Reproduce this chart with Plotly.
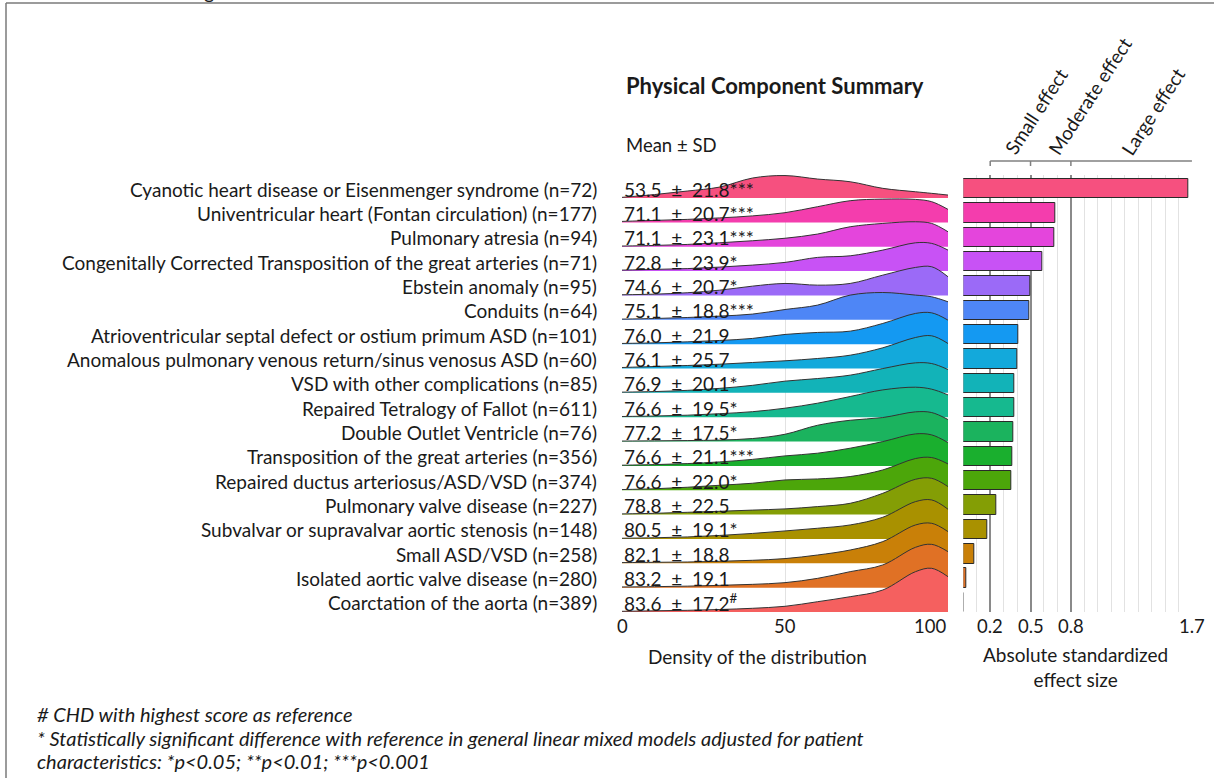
import plotly.graph_objects as go

# ---------------- data ----------------
categories = [
    "Cyanotic heart disease or Eisenmenger syndrome (n=72)",
    "Univentricular heart (Fontan circulation) (n=177)",
    "Pulmonary atresia (n=94)",
    "Congenitally Corrected Transposition of the great arteries (n=71)",
    "Ebstein anomaly (n=95)",
    "Conduits (n=64)",
    "Atrioventricular septal defect or ostium primum ASD (n=101)",
    "Anomalous pulmonary venous return/sinus venosus ASD (n=60)",
    "VSD with other complications (n=85)",
    "Repaired Tetralogy of Fallot (n=611)",
    "Double Outlet Ventricle (n=76)",
    "Transposition of the great arteries (n=356)",
    "Repaired ductus arteriosus/ASD/VSD (n=374)",
    "Pulmonary valve disease (n=227)",
    "Subvalvar or supravalvar aortic stenosis (n=148)",
    "Small ASD/VSD (n=258)",
    "Isolated aortic valve disease (n=280)",
    "Coarctation of the aorta (n=389)",
]
means = [53.5, 71.1, 71.1, 72.8, 74.6, 75.1, 76.0, 76.1, 76.9, 76.6, 77.2, 76.6, 76.6, 78.8, 80.5, 82.1, 83.2, 83.6]
sds = [21.8, 20.7, 23.1, 23.9, 20.7, 18.8, 21.9, 25.7, 20.1, 19.5, 17.5, 21.1, 22.0, 22.5, 19.1, 18.8, 19.1, 17.2]
sig_marks = ["***", "***", "***", "*", "*", "***", "", "", "*", "*", "*", "***", "*", "", "*", "", "", "<sup>#</sup>"]
effect_sizes = [1.67, 0.682, 0.674, 0.585, 0.50, 0.49, 0.41, 0.405, 0.38, 0.377, 0.372, 0.364, 0.357, 0.248, 0.176, 0.085, 0.025, 0.0]

# density of the PCS distribution (relative units), read at these scores
density_x = [0, 10, 20, 30, 40, 50, 60, 70, 80, 90, 95, 100]
dens_cyanotic = [0.7, 3.5, 7.0, 11.0, 20.0, 22.5, 19.0, 16.3, 9.7, 6.3, 4.7, 3.0]
dens_univentricular = [1.0, 2.0, 3.0, 4.5, 6.5, 9.7, 15.7, 21.7, 23.3, 23.0, 20.7, 13.0]
dens_pulm_atresia = [0.7, 1.3, 2.3, 4.0, 6.0, 8.5, 12.7, 20.0, 23.3, 25.0, 23.3, 15.0]
dens_cctga = [1.0, 1.7, 2.5, 4.0, 6.0, 8.7, 13.7, 15.3, 21.0, 28.3, 27.7, 21.0]
dens_ebstein = [0.7, 1.3, 2.7, 5.3, 9.3, 12.0, 10.3, 12.0, 20.3, 28.0, 28.7, 18.7]
dens_conduits = [0.7, 1.3, 2.3, 3.7, 5.7, 10.3, 14.7, 24.7, 27.3, 24.7, 23.0, 18.0]
dens_avsd = [0.7, 1.3, 2.3, 3.7, 5.7, 9.7, 11.7, 13.0, 20.7, 30.7, 31.3, 24.0]
dens_apvr = [1.0, 2.0, 3.0, 4.3, 6.0, 7.7, 10.0, 13.3, 20.7, 31.0, 32.7, 25.0]
dens_vsd_other = [0.7, 1.3, 2.5, 4.5, 7.5, 11.7, 14.3, 17.7, 24.3, 30.0, 29.3, 23.3]
dens_tof = [0.7, 1.2, 2.0, 3.5, 5.5, 9.0, 14.0, 20.7, 27.3, 30.0, 28.0, 22.3]
dens_dov = [0.5, 0.7, 1.0, 1.5, 3.0, 7.3, 16.3, 21.3, 24.0, 29.7, 29.0, 22.0]
dens_tga = [0.7, 1.3, 2.3, 4.0, 6.5, 10.0, 12.7, 17.7, 24.3, 32.0, 31.0, 23.3]
dens_pda = [0.7, 1.5, 3.0, 5.0, 7.0, 10.3, 11.3, 13.7, 20.3, 31.7, 32.7, 26.3]
dens_pulm_valve = [0.7, 1.3, 2.3, 3.3, 4.5, 5.7, 8.0, 11.3, 21.3, 35.3, 36.3, 28.0]
dens_subvalvar = [0.7, 1.2, 2.0, 3.5, 5.5, 8.0, 10.7, 14.0, 21.7, 37.3, 39.0, 29.7]
dens_small_asd = [0.7, 1.0, 1.3, 2.0, 3.0, 4.7, 8.3, 13.3, 21.7, 38.3, 40.0, 31.7]
dens_aortic_valve = [0.7, 1.0, 1.5, 2.3, 3.3, 5.0, 9.3, 16.0, 22.7, 40.3, 43.3, 36.0]
dens_coarctation = [0.7, 1.2, 1.7, 2.5, 3.7, 5.7, 10.3, 15.3, 22.0, 40.3, 43.7, 35.3]
densities = [dens_cyanotic, dens_univentricular, dens_pulm_atresia, dens_cctga, dens_ebstein,
             dens_conduits, dens_avsd, dens_apvr, dens_vsd_other, dens_tof, dens_dov, dens_tga,
             dens_pda, dens_pulm_valve, dens_subvalvar, dens_small_asd, dens_aortic_valve,
             dens_coarctation]

colors = ["#F6507F", "#F43DAD", "#E445DC", "#C852F5", "#9B6AF7", "#4E86F6", "#1499F2",
          "#13A9DB", "#12B3B8", "#16B98F", "#1BB35E", "#1AAF2E", "#4CA60A", "#849E05",
          "#A99100", "#C98008", "#E07125", "#F5605F"]

x_ticks_density = [0, 50, 100]
x_ticks_effect = [0.2, 0.5, 0.8, 1.7]
effect_bands = ["Small effect", "Moderate effect", "Large effect"]
effect_band_edges = [0.2, 0.5, 0.8, 1.7]

# ---------------- geometry helpers ----------------
W, H = 1214, 778
def PX(px):
    return px / W
def PY(py):
    return 1 - py / H

ROW_PX = 24.35
SCALE = 1.0 / ROW_PX
n = len(categories)
FONT = "Lato"
TXT = "#1a1a1a"
FS = 19

fig = go.Figure()

# ridgelines (top row first, lower rows overlay)
for i in range(n):
    base = n - 1 - i
    fig.add_trace(go.Scatter(x=[density_x[0], density_x[-1]], y=[base, base], mode="lines",
                             line=dict(width=0, color="rgba(0,0,0,0)"), hoverinfo="skip",
                             showlegend=False, xaxis="x", yaxis="y"))
    fig.add_trace(go.Scatter(x=density_x, y=[base + d * SCALE for d in densities[i]], mode="lines",
                             line=dict(color="#333333", width=1, shape="spline", smoothing=1.0),
                             fill="tonexty", fillcolor=colors[i], showlegend=False,
                             hoverinfo="skip", xaxis="x", yaxis="y"))

# effect size bars
fig.add_trace(go.Bar(x=effect_sizes, y=[n - 1 - i + 0.39 for i in range(n)], orientation="h",
                     width=0.8, marker=dict(color=colors, line=dict(color="#2a2a2a", width=1)),
                     showlegend=False, hoverinfo="skip", xaxis="x2", yaxis="y2"))

ydom = [PY(612), PY(175)]
yrange = [0, (612 - 175) / ROW_PX]

fig.update_layout(
    width=W, height=H, margin=dict(l=0, r=0, t=0, b=0),
    paper_bgcolor="white", plot_bgcolor="white",
    font=dict(family=FONT, color=TXT),
    bargap=0,
    xaxis=dict(domain=[PX(622), PX(948)], range=[0, 100], tickvals=x_ticks_density,
               showticklabels=False, showgrid=True, gridcolor="#e2e2e2", gridwidth=1,
               zeroline=False, showline=False, ticks="", anchor="y"),
    yaxis=dict(domain=ydom, range=yrange, showticklabels=False, showgrid=False,
               zeroline=False, showline=False, ticks="", anchor="x"),
    xaxis2=dict(domain=[PX(963.3), PX(1192.6)], range=[0, 1.705], tickvals=[0.2, 0.5, 0.8],
                showticklabels=False, showgrid=True, gridcolor="#8a8a8a", gridwidth=1.6,
                minor=dict(dtick=0.1, tick0=0, showgrid=True, gridcolor="#e2e2e2", gridwidth=1),
                zeroline=False, showline=False, ticks="", anchor="y2"),
    yaxis2=dict(domain=ydom, range=yrange, showticklabels=False, showgrid=False,
                zeroline=False, showline=False, ticks="", anchor="x2"),
)

ann = []
# partial caption letter at the very top
ann.append(dict(x=PX(209), y=1, xref="paper", yref="paper", text="g", showarrow=False,
                xanchor="center", yanchor="middle", yshift=9, font=dict(size=20, color=TXT)))
ann.append(dict(x=PX(624), y=PY(85), xref="paper", yref="paper",
                text="<b>Physical Component Summary</b>", showarrow=False,
                xanchor="left", yanchor="middle", font=dict(size=22, color=TXT)))
ann.append(dict(x=PX(624), y=PY(145), xref="paper", yref="paper", text="Mean ± SD",
                showarrow=False, xanchor="left", yanchor="middle", font=dict(size=18.5, color=TXT)))
for i in range(n):
    yv = n - 1 - i + 0.37
    ann.append(dict(x=PX(599), y=yv, xref="paper", yref="y", text=categories[i],
                    showarrow=False, xanchor="right", yanchor="middle",
                    font=dict(size=FS, color=TXT)))
    ann.append(dict(x=0, y=yv, xref="x", yref="y",
                    text=f"{means[i]:.1f}\u00a0 ±\u00a0 {sds[i]:.1f}{sig_marks[i]}",
                    showarrow=False, xanchor="left", yanchor="middle",
                    font=dict(size=FS, color=TXT)))
# density axis tick labels
for v in x_ticks_density:
    xa = "right" if v == x_ticks_density[-1] else "center"
    ann.append(dict(x=v, y=PY(626), xref="x", yref="paper", text=str(v), showarrow=False,
                    xanchor=xa, yanchor="middle", font=dict(size=18.5, color=TXT)))
for v in x_ticks_effect:
    ann.append(dict(x=v, y=PY(626), xref="x2", yref="paper", text=f"{v:.1f}", showarrow=False,
                    xanchor="center", yanchor="middle", font=dict(size=18.5, color=TXT)))
ann.append(dict(x=PX(757), y=PY(656), xref="paper", yref="paper",
                text="Density of the distribution", showarrow=False,
                xanchor="center", yanchor="middle", font=dict(size=FS, color=TXT)))
ann.append(dict(x=PX(1075), y=PY(667), xref="paper", yref="paper",
                text="Absolute standardized<br>effect size", showarrow=False,
                xanchor="center", yanchor="middle", font=dict(size=FS, color=TXT)))
# rotated effect labels
label_centers = [(1036, 112), (1089, 96), (1153, 112)]
for lbl, (cx, cy) in zip(effect_bands, label_centers):
    ann.append(dict(x=PX(cx), y=PY(cy), xref="paper", yref="paper", text=lbl, showarrow=False,
                    textangle=-57, xanchor="center", yanchor="middle",
                    font=dict(size=FS, color=TXT)))
# footnotes
foot = ["# CHD with highest score as reference",
        "* Statistically significant difference with reference in general linear mixed models adjusted for patient",
        "characteristics: *p<0.05; **p<0.01; ***p<0.001"]
for txt, yy in zip(foot, [714, 738, 761]):
    ann.append(dict(x=PX(35), y=PY(yy), xref="paper", yref="paper", text=f"<i>{txt}</i>",
                    showarrow=False, xanchor="left", yanchor="middle",
                    font=dict(size=20, color=TXT)))
fig.update_layout(annotations=ann)

shapes = []
# frame
shapes.append(dict(type="line", xref="paper", yref="paper", x0=PX(6), x1=1, y0=PY(3), y1=PY(3),
                   line=dict(color="#7a7a7a", width=1.5)))
shapes.append(dict(type="line", xref="paper", yref="paper", x0=PX(6), x1=PX(6), y0=PY(3), y1=0,
                   line=dict(color="#7a7a7a", width=1.5)))
# effect bracket
shapes.append(dict(type="line", xref="x2", yref="paper", x0=effect_band_edges[0],
                   x1=effect_band_edges[-1], y0=PY(161), y1=PY(161),
                   line=dict(color="#808080", width=1.5)))
for e in effect_band_edges[:-1]:
    shapes.append(dict(type="line", xref="x2", yref="paper", x0=e, x1=e, y0=PY(161), y1=PY(166),
                       line=dict(color="#808080", width=1.5)))
fig.update_layout(shapes=shapes)

fig.write_html("out.html")
